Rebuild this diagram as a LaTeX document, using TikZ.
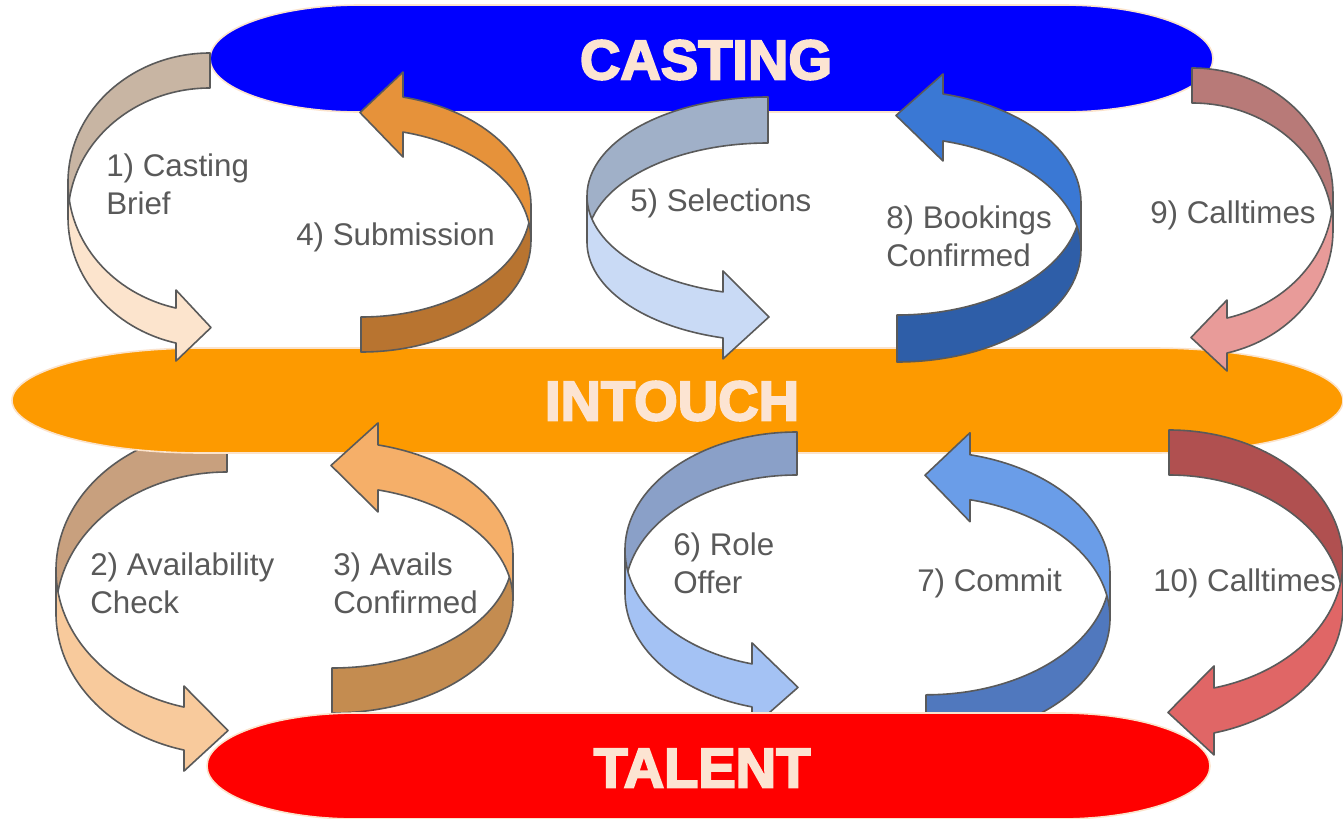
\documentclass[tikz,border=0pt]{standalone}
\usepackage{fontspec}
\setmainfont{Liberation Sans}
\newfontfamily\heavyfont[BoldFeatures={FakeBold=3.5}]{Liberation Sans}
\definecolor{linegray}{HTML}{5A5A5A}
\definecolor{labelgray}{HTML}{595959}
\definecolor{titlepeach}{HTML}{FCE4D2}
\definecolor{blobedge}{HTML}{FBE3CC}
\definecolor{castblue}{HTML}{0000FF}
\definecolor{touchorange}{HTML}{FD9A00}
\definecolor{talentred}{HTML}{FF0000}
\definecolor{aat}{HTML}{C8B5A3}\definecolor{aah}{HTML}{FCE4CD}
\definecolor{abt}{HTML}{C8A07E}\definecolor{abh}{HTML}{F8CA9C}
\definecolor{act}{HTML}{C48C50}\definecolor{ach}{HTML}{F5AF69}
\definecolor{adt}{HTML}{B87430}\definecolor{adh}{HTML}{E6923A}
\definecolor{aet}{HTML}{A0B0C8}\definecolor{aeh}{HTML}{C9DAF5}
\definecolor{aft}{HTML}{8AA0C8}\definecolor{afh}{HTML}{A4C2F4}
\definecolor{agt}{HTML}{5078BE}\definecolor{agh}{HTML}{6A9DE8}
\definecolor{aht}{HTML}{2E5EA8}\definecolor{ahh}{HTML}{3A78D4}
\definecolor{ait}{HTML}{B87A78}\definecolor{aih}{HTML}{E89B99}
\definecolor{ajt}{HTML}{B05050}\definecolor{ajh}{HTML}{E06666}
\tikzset{
  arrline/.style={draw=linegray, line width=1.2pt, line join=round},
  lbl/.style={text=labelgray, inner sep=0pt, anchor=west, align=left,
    font=\fontsize{23.5}{28.5}\selectfont},
  title/.style={text=titlepeach, inner sep=0pt,
    font=\heavyfont\bfseries\fontsize{42}{42}\selectfont},
  blobline/.style={draw=blobedge, line width=1.2pt}
}
% curved ribbon arrow: a, B, t, d, e, tail colour, head colour
\newcommand\ribbonarrow[7]{%
  \pgfmathsetmacro\arA{#1}%
  \pgfmathsetmacro\arB{#2}%
  \pgfmathsetmacro\arT{#3}%
  \pgfmathsetmacro\arD{#4}%
  \pgfmathsetmacro\arE{#5}%
  \pgfmathsetmacro\arPhi{acos(-\arD/\arA)}%
  \pgfmathsetmacro\arYs{\arB*sin(\arPhi)}%
  \pgfmathsetmacro\arYt{\arYs+\arT}%
  \pgfmathsetmacro\arTop{\arYs-\arE}%
  \pgfmathsetmacro\arBot{\arYt+\arE}%
  \pgfmathsetmacro\arTip{\arYs+\arT/2+2}%
  \path[arrline, fill=#6] (0,-\arB)
    arc[start angle=270, end angle=180, x radius=\arA, y radius=\arB]
    -- (-\arA,\arT)
    arc[start angle=180, end angle=270, x radius=\arA, y radius=\arB]
    -- cycle;
  \path[arrline, fill=#7] (-\arA,0)
    arc[start angle=180, end angle=\arPhi, x radius=\arA, y radius=\arB]
    -- (-\arD,\arTop) -- (1,\arTip) -- (-\arD,\arBot) -- (-\arD,\arYt)
    arc[start angle=\arPhi, end angle=180, x radius=\arA, y radius=\arB]
    -- cycle;
}
% stadium-like ellipse: x0, x1, yc, h, cap, colour
\newcommand\blob[6]{%
  \pgfmathsetmacro\blL{#1+#5}%
  \pgfmathsetmacro\blR{#2-#5}%
  \pgfmathsetmacro\blT{#3-#4}%
  \pgfmathsetmacro\blD{#3+#4}%
  \path[blobline, fill=#6] (\blL,\blT) -- (\blR,\blT)
    arc[start angle=-90, end angle=90, x radius=#5, y radius=#4]
    -- (\blL,\blD)
    arc[start angle=90, end angle=270, x radius=#5, y radius=#4]
    -- cycle;
}
\begin{document}
\begin{tikzpicture}[x=0.75pt, y=-0.75pt]
\useasboundingbox (0,0) rectangle (1343,818);
% CASTING band
\blob{210}{1213}{58.5}{53.5}{150}{castblue}
% arrow 2 (under INTOUCH)
\begin{scope}[shift={(227,570.3)}]
  \ribbonarrow{171}{141.3}{43}{43}{21}{abt}{abh}
\end{scope}
% INTOUCH band
\blob{12}{1343}{400.5}{52.5}{190}{touchorange}
% arrows 3, 6, 7 (under TALENT)
\begin{scope}[shift={(332,599.6)}, xscale=-1, yscale=-1]
  \ribbonarrow{181}{113.4}{45}{46}{22}{act}{ach}
\end{scope}
\begin{scope}[shift={(797,550)}]
  \ribbonarrow{172}{118}{43}{45}{21}{aft}{afh}
\end{scope}
\begin{scope}[shift={(926,618)}, xscale=-1, yscale=-1]
  \ribbonarrow{184}{121.8}{45}{44}{22}{agt}{agh}
\end{scope}
% TALENT band
\blob{207}{1210}{766}{53}{150}{talentred}
% remaining arrows
\begin{scope}[shift={(210,182.4)}]
  \ribbonarrow{142}{129.4}{35}{34}{18}{aat}{aah}
\end{scope}
\begin{scope}[shift={(361,240.3)}, xscale=-1, yscale=-1]
  \ribbonarrow{170}{111.7}{35}{42}{25}{adt}{adh}
\end{scope}
\begin{scope}[shift={(768,196)}]
  \ribbonarrow{181}{99}{46}{45}{21}{aet}{aeh}
\end{scope}
\begin{scope}[shift={(897,249.7)}, xscale=-1, yscale=-1]
  \ribbonarrow{184}{112.3}{47}{46}{20}{aht}{ahh}
\end{scope}
\begin{scope}[shift={(1192,195)}, xscale=-1]
  \ribbonarrow{141}{127}{35}{35}{18}{ait}{aih}
\end{scope}
\begin{scope}[shift={(1169,561.2)}, xscale=-1]
  \ribbonarrow{174}{131.2}{45}{45}{22}{ajt}{ajh}
\end{scope}
% titles
\node[title] (casting) at (706,60) {CASTING};
\node[title] (intouch) at (672,401) {INTOUCH};
\node[title] (talent) at (702,768) {TALENT};
% labels
\node[lbl] (l1) at (106,184) {1) Casting\\Brief};
\node[lbl] (l4) at (296,237) {4) Submission};
\node[lbl] (l5) at (630,203) {5) Selections};
\node[lbl] (l8) at (886,236) {8) Bookings\\Confirmed};
\node[lbl] (l9) at (1150,215) {9) Calltimes};
\node[lbl] (l2) at (90,583) {2) Availability\\Check};
\node[lbl] (l3) at (333,583) {3) Avails\\Confirmed};
\node[lbl] (l6) at (673,563) {6) Role\\Offer};
\node[lbl] (l7) at (917,583) {7) Commit};
\node[lbl] (l10) at (1153,583) {10) Calltimes};
\end{tikzpicture}
\end{document}
